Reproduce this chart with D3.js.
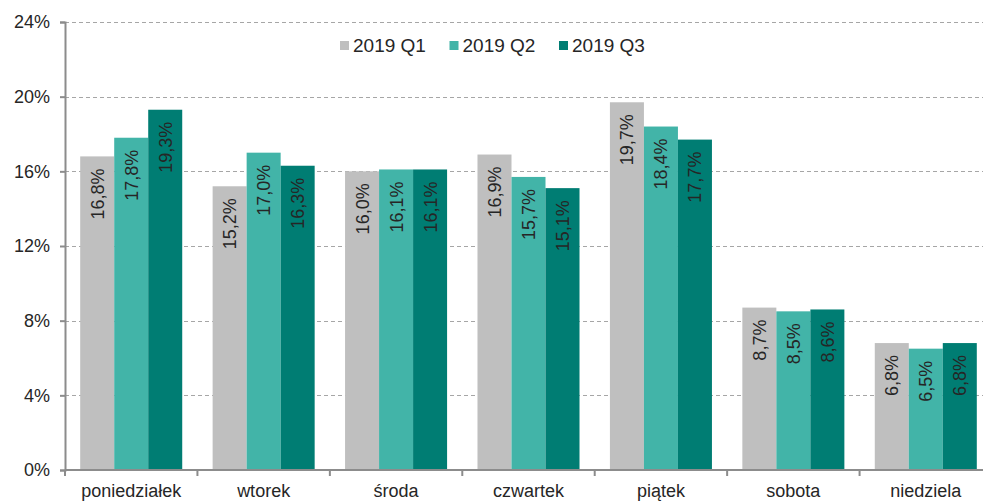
<!DOCTYPE html>
<html>
<head>
<meta charset="utf-8">
<script src="https://cdn.jsdelivr.net/npm/d3@7"></script>
<style>
  body { margin: 0; background: #fff; }
  svg { display: block; font-family: "Liberation Sans", Arial, sans-serif; }
</style>
</head>
<body>
<div id="chart-container"></div>
<script>
// Data
const days = ['poniedziałek', 'wtorek', 'środa', 'czwartek', 'piątek', 'sobota', 'niedziela']
const seriesNames = ['2019 Q1', '2019 Q2', '2019 Q3']
const q1 = [16.8, 15.2, 16.0, 16.9, 19.7, 8.7, 6.8]
const q2 = [17.8, 17.0, 16.1, 15.7, 18.4, 8.5, 6.5]
const q3 = [19.3, 16.3, 16.1, 15.1, 17.7, 8.6, 6.8]
const yTicks = [0, 4, 8, 12, 16, 20, 24]
const colors = ['#bfbfbf', '#42b4a8', '#007d73']

const width = 983, height = 502
const margin = { top: 22, right: -9, bottom: 32, left: 65 }

const values = [q1, q2, q3]
const rows = days.map((d, i) => ({ day: d, vals: values.map((s, j) => ({ key: seriesNames[j], value: s[i], idx: j })) }))

const svg = d3.select('#chart-container')
    .append('svg')
    .attr('width', width)
    .attr('height', height)

const x0 = d3.scaleBand()
    .domain(days)
    .range([margin.left, width - margin.right])
    .padding(0)

const x1 = d3.scaleBand()
    .domain(seriesNames)
    .range([0, x0.bandwidth()])
    .paddingInner(0)
    .paddingOuter(0.447)

const y = d3.scaleLinear()
    .domain([0, 24])
    .range([height - margin.bottom, margin.top])

const fmt = v => d3.format('.1f')(v).replace('.', ',') + '%'

// gridlines
svg.append('g')
    .selectAll('line')
    .data(yTicks.filter(t => t > 0))
    .enter()
    .append('line')
    .attr('x1', margin.left)
    .attr('x2', width)
    .attr('y1', d => Math.round(y(d)) + 0.5)
    .attr('y2', d => Math.round(y(d)) + 0.5)
    .attr('stroke', '#a6a6a6')
    .attr('stroke-width', 1)
    .attr('stroke-dasharray', '4,3')

// bars
const groups = svg.append('g')
    .selectAll('g')
    .data(rows)
    .enter()
    .append('g')
    .attr('transform', d => 'translate(' + x0(d.day) + ',0)')

groups.selectAll('rect')
    .data(d => d.vals)
    .enter()
    .append('rect')
    .attr('x', d => x1(d.key))
    .attr('width', x1.bandwidth())
    .attr('y', d => y(d.value))
    .attr('height', d => y(0) - y(d.value))
    .attr('fill', d => colors[d.idx])

groups.selectAll('text')
    .data(d => d.vals)
    .enter()
    .append('text')
    .attr('transform', d => 'translate(' + (x1(d.key) + x1.bandwidth() / 2 + 6.5) + ',' + (y(d.value) + 12) + ') rotate(-90)')
    .attr('text-anchor', 'end')
    .attr('font-size', '18px')
    .attr('fill', '#262626')
    .text(d => fmt(d.value))

// y axis
const yAxis = svg.append('g')
    .attr('transform', 'translate(' + margin.left + ',0)')
    .call(d3.axisLeft(y).tickValues(yTicks).tickFormat(d => d + '%').tickSize(5).tickPadding(10))
yAxis.select('.domain').attr('stroke', '#8c8c8c').attr('stroke-width', 2)
yAxis.selectAll('.tick line').attr('stroke', '#8c8c8c').attr('stroke-width', 2)
yAxis.selectAll('.tick text').attr('font-size', '18px').attr('fill', '#262626').attr('font-family', null)

// x axis
const xAxisG = svg.append('g')
    .attr('transform', 'translate(0,' + y(0) + ')')
xAxisG.append('line')
    .attr('x1', margin.left)
    .attr('x2', width)
    .attr('stroke', '#8c8c8c')
    .attr('stroke-width', 2)
xAxisG.selectAll('.xtick')
    .data(days)
    .enter()
    .append('line')
    .attr('class', 'xtick')
    .attr('x1', d => x0(d))
    .attr('x2', d => x0(d))
    .attr('y1', 0)
    .attr('y2', 6)
    .attr('stroke', '#8c8c8c')
    .attr('stroke-width', 2)
xAxisG.selectAll('.xlabel')
    .data(days)
    .enter()
    .append('text')
    .attr('class', 'xlabel')
    .attr('x', d => x0(d) + x0.bandwidth() / 2)
    .attr('y', 27)
    .attr('text-anchor', 'middle')
    .attr('font-size', '18px')
    .attr('fill', '#262626')
    .text(d => d)

// legend
const legend = svg.append('g')
    .attr('transform', 'translate(340,41)')
const items = legend.selectAll('g')
    .data(seriesNames)
    .enter()
    .append('g')
    .attr('transform', (d, i) => 'translate(' + (i * 109.5) + ',0)')
items.append('rect')
    .attr('width', 9)
    .attr('height', 9)
    .attr('fill', (d, i) => colors[i])
items.append('text')
    .attr('x', 13)
    .attr('y', 11)
    .attr('font-size', '19px')
    .attr('fill', '#262626')
    .text(d => d)
</script>
</body>
</html>
